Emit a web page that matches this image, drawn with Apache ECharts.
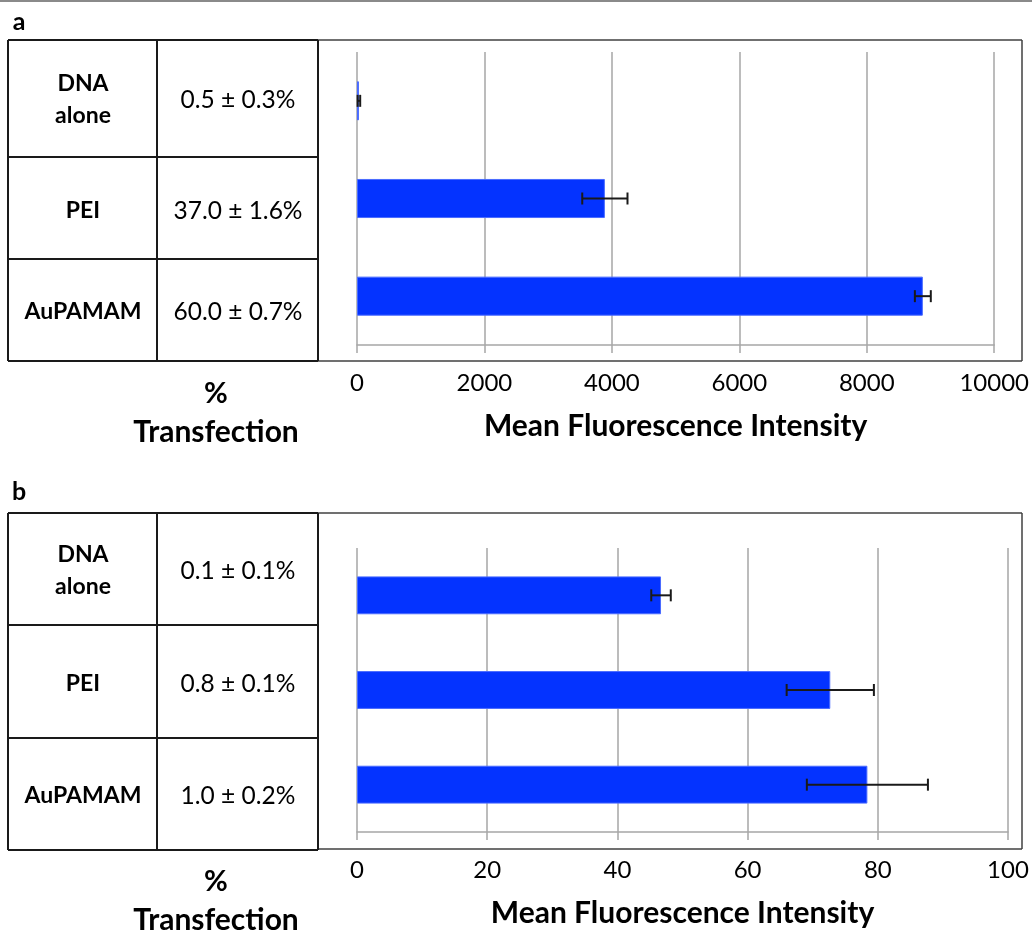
<!DOCTYPE html>
<html>
<head>
<meta charset="utf-8">
<script src="https://cdn.jsdelivr.net/npm/echarts@6/dist/echarts.min.js"></script>
<style>
    * {
        margin: 0;
        padding: 0;
    }

    #main {
        width: 1032px;
        height: 930px;
    }
</style>
</head>
<body>
<div id="main"></div>
<script type="text/javascript">
    // groups, top to bottom
    var groups = ['DNA\nalone', 'PEI', 'AuPAMAM'];

    // panel a
    var mfiA = [30, 3890, 8880];
    var errA = [20, 355, 125];
    var transA = ['0.5 ± 0.3%', '37.0 ± 1.6%', '60.0 ± 0.7%'];
    var ticksA = [0, 2000, 4000, 6000, 8000, 10000];

    // panel b
    var mfiB = [46.7, 72.7, 78.4];
    var errB = [1.5, 6.7, 9.3];
    var transB = ['0.1 ± 0.1%', '0.8 ± 0.1%', '1.0 ± 0.2%'];
    var ticksB = [0, 20, 40, 60, 80, 100];

    var FONT = 'Lato';
    var GRID_GRAY = '#a6a6a6';
    var BLUE = '#0433ff';

    function errorItem(params, api) {
        var v = api.value(0), cat = api.value(1), e = api.value(2);
        var lo = api.coord([v - e, cat]);
        var hi = api.coord([v + e, cat]);
        var h = 6;
        var st = {stroke: '#1a1a1a', lineWidth: 2};
        return {
            type: 'group',
            children: [
                {type: 'line', shape: {x1: lo[0], y1: lo[1], x2: hi[0], y2: hi[1]}, style: st},
                {type: 'line', shape: {x1: lo[0], y1: lo[1] - h, x2: lo[0], y2: lo[1] + h}, style: st},
                {type: 'line', shape: {x1: hi[0], y1: hi[1] - h, x2: hi[0], y2: hi[1] + h}, style: st}
            ]
        };
    }

    function xAxisFor(idx, ticks) {
        return {
            type: 'value',
            gridIndex: idx,
            min: ticks[0],
            max: ticks[ticks.length - 1],
            interval: ticks[1] - ticks[0],
            name: 'Mean Fluorescence Intensity',
            nameLocation: 'middle',
            nameGap: 66,
            nameTextStyle: {fontFamily: FONT, fontSize: 30, fontWeight: 'bold', color: '#000'},
            axisLine: {show: true, lineStyle: {color: GRID_GRAY, width: 1.5}},
            axisTick: {show: true, length: 8, lineStyle: {color: GRID_GRAY, width: 1.5}},
            splitLine: {show: true, lineStyle: {color: GRID_GRAY, width: 1.5}},
            axisLabel: {
                fontFamily: FONT, fontSize: 24, color: '#000', margin: 26,
                formatter: function (v) {
                    return String(v);
                }
            }
        };
    }

    function yAxisFor(idx) {
        return {
            type: 'category',
            gridIndex: idx,
            inverse: true,
            data: groups,
            axisLine: {show: false},
            axisTick: {show: false},
            axisLabel: {show: false},
            splitLine: {show: false}
        };
    }

    function barSeries(idx, vals) {
        return {
            type: 'bar',
            xAxisIndex: idx,
            yAxisIndex: idx,
            barWidth: '40%',
            itemStyle: {color: BLUE, borderColor: '#4a6bff', borderWidth: 1},
            data: vals,
            z: 2
        };
    }

    function errSeries(idx, vals, errs) {
        return {
            type: 'custom',
            xAxisIndex: idx,
            yAxisIndex: idx,
            renderItem: errorItem,
            encode: {x: 0, y: 1},
            data: vals.map(function (v, i) {
                return [v, i, errs[i]];
            }),
            z: 3
        };
    }

    // table + frame drawn as graphics
    function line(x1, y1, x2, y2, color, w) {
        return {
            type: 'line',
            shape: {x1: x1, y1: y1, x2: x2, y2: y2},
            style: {stroke: color, lineWidth: w},
            z: 10
        };
    }

    function text(str, x, y, font, lh) {
        return {
            type: 'text',
            x: x,
            y: y,
            style: {
                text: str,
                font: font,
                fill: '#000',
                align: 'center',
                verticalAlign: 'middle',
                textAlign: 'center',
                textVerticalAlign: 'middle',
                lineHeight: lh || undefined
            },
            z: 10
        };
    }

    function panelTable(rows, trans, textYs, pctY, trY, boxBottom) {
        var TBL = '#1a1a1a', BOX = '#404040';
        var els = [];
        var top = rows[0], bottom = rows[rows.length - 1];
        // frame around the chart
        els.push(line(318, top, 1022, top, BOX, 1.5));
        els.push(line(1022, top, 1022, boxBottom, BOX, 1.5));
        els.push(line(318, boxBottom, 1022, boxBottom, BOX, 1.5));
        // table grid
        rows.forEach(function (y) {
            els.push(line(8, y, 318, y, TBL, 2));
        });
        [8, 157, 318].forEach(function (x) {
            els.push(line(x, top, x, bottom, TBL, 2));
        });
        groups.forEach(function (g, i) {
            els.push(text(g, 83, textYs[i], 'bold 23px ' + FONT, 32));
            els.push(text(trans[i], 238, textYs[i], '24.5px ' + FONT));
        });
        els.push(text('%', 216, pctY, 'bold 29px ' + FONT));
        els.push(text('Transfection', 216, trY, 'bold 30px ' + FONT));
        return els;
    }

    var graphics = [line(0, 1, 1032, 1, '#8a8a8a', 2)];
    graphics.push(text('a', 19, 22, 'bold 25px ' + FONT));
    graphics.push(text('b', 19, 492, 'bold 25px ' + FONT));
    graphics = graphics.concat(panelTable([40, 157, 259, 361], transA, [100, 211, 312], 394, 432, 361));
    graphics = graphics.concat(panelTable([513, 625, 738, 850], transB, [571, 684, 796], 882, 920, 849));

    var myChart = echarts.init(document.getElementById('main'));
    var option = {
        backgroundColor: '#fff',
        animation: false,
        grid: [
            {left: 357, right: 37, top: 52, height: 293},
            {left: 357, right: 24, top: 548, height: 284}
        ],
        xAxis: [xAxisFor(0, ticksA), xAxisFor(1, ticksB)],
        yAxis: [yAxisFor(0), yAxisFor(1)],
        series: [
            barSeries(0, mfiA),
            errSeries(0, mfiA, errA),
            barSeries(1, mfiB),
            errSeries(1, mfiB, errB)
        ],
        graphic: graphics
    };
    myChart.setOption(option);
</script>
</body>
</html>
